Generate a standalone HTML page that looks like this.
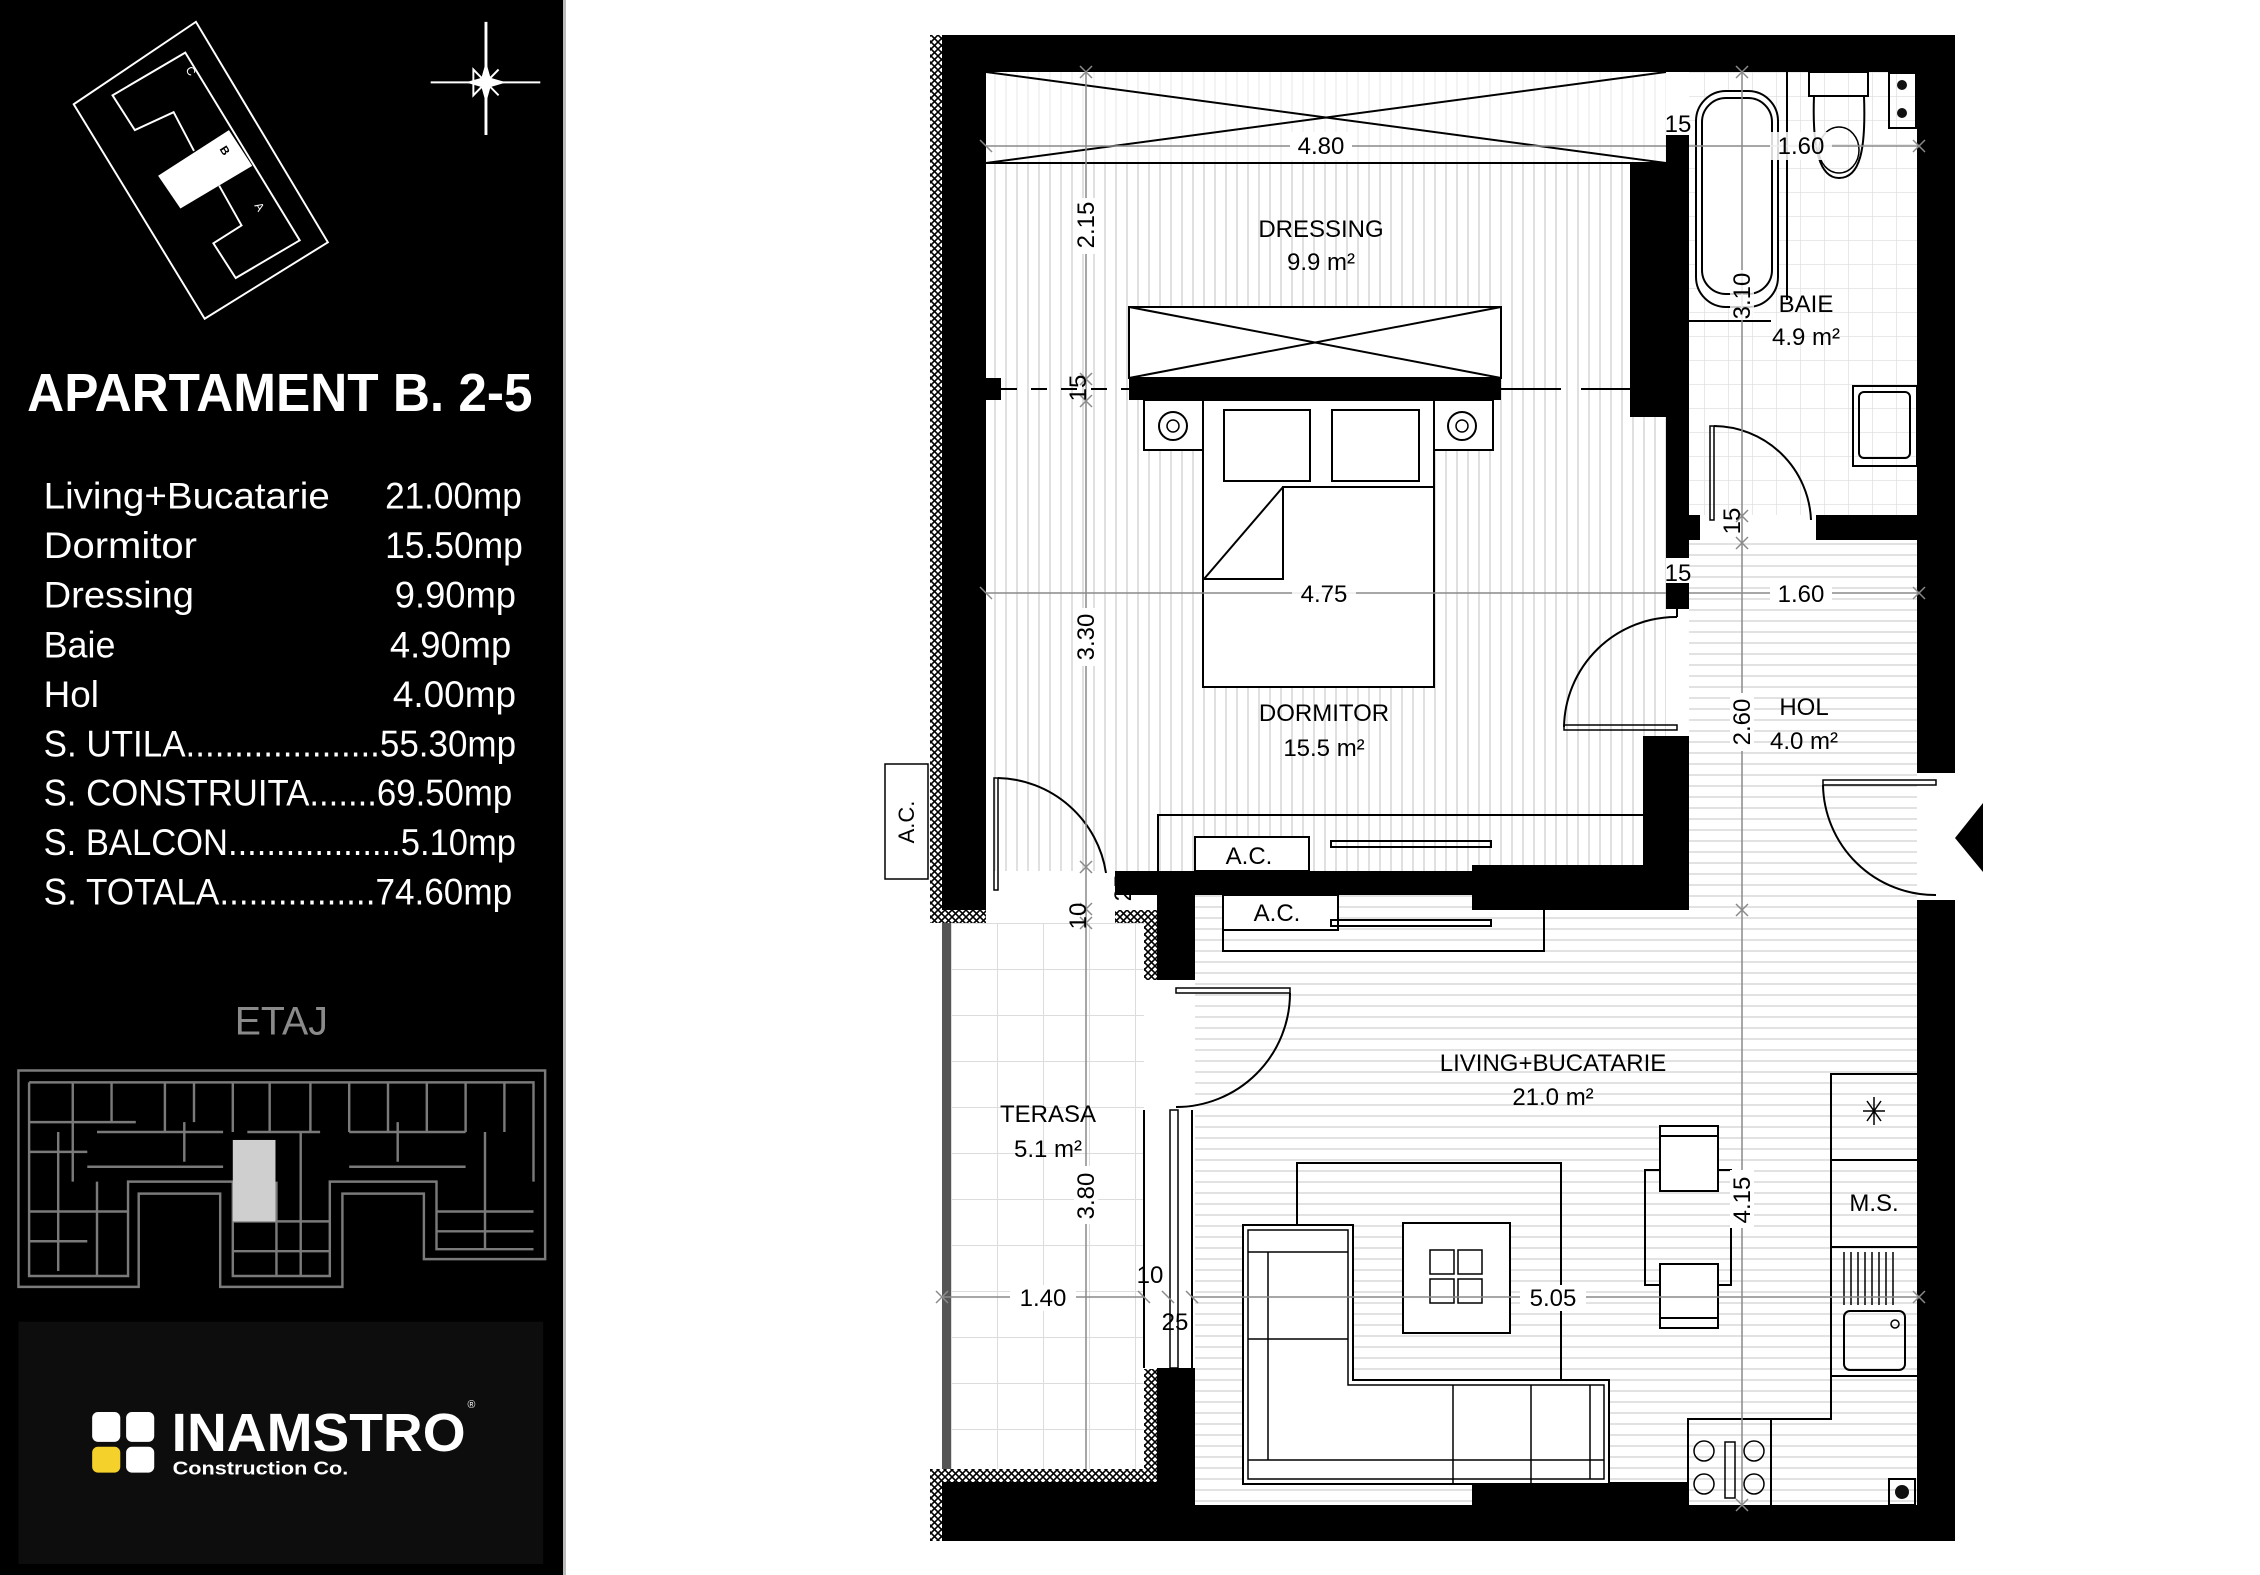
<!DOCTYPE html>
<html><head><meta charset="utf-8"><style>
html,body{margin:0;padding:0;background:#fff;}
svg{display:block;}
text{font-family:"Liberation Sans",sans-serif;}
</style></head><body>
<svg width="2260" height="1575" viewBox="0 0 2260 1575" xmlns="http://www.w3.org/2000/svg">
<defs>
<pattern id="vs" width="11" height="20" patternUnits="userSpaceOnUse"><rect width="11" height="20" fill="#fff"/><line x1="5" y1="0" x2="5" y2="20" stroke="#d9d9d9" stroke-width="1.6"/></pattern>
<pattern id="hs" width="20" height="11" patternUnits="userSpaceOnUse"><rect width="20" height="11" fill="#fff"/><line x1="0" y1="5" x2="20" y2="5" stroke="#d9d9d9" stroke-width="1.6"/></pattern>
<pattern id="bg" width="24" height="24" patternUnits="userSpaceOnUse"><rect width="24" height="24" fill="#fff"/><path d="M0 0H24M0 0V24" stroke="#e2e2e2" stroke-width="1.6" fill="none"/></pattern>
<pattern id="tg" width="46" height="46" patternUnits="userSpaceOnUse" x="951" y="923"><rect width="46" height="46" fill="#fff"/><path d="M0 0H46M0 0V46" stroke="#dcdcdc" stroke-width="2" fill="none"/></pattern>
<pattern id="ht" width="7" height="7" patternUnits="userSpaceOnUse"><rect width="7" height="7" fill="#fff"/><path d="M0 0L7 7M7 0L0 7" stroke="#000" stroke-width="1.6"/></pattern>
</defs>

<!-- LEFT PANEL -->
<rect x="0" y="0" width="563" height="1575" fill="#000"/>
<rect x="563" y="0" width="3" height="1575" fill="#bbb"/>
<g transform="scale(0.97,0.993)">
<!-- site plan -->
<polygon points="76,105 202,22 338,244 211,321" fill="none" stroke="#fff" stroke-width="2"/>
<polyline points="200,152 179,113 139,131 116,96 191,53 309,242 243,280 220,245 249,227 226,187" fill="none" stroke="#fff" stroke-width="2"/>
<polygon points="163,177 236,131 260,167 186,210" fill="#fff"/>
<text x="0" y="0" font-size="12" fill="#fff" transform="translate(191,70) rotate(58)">C</text>
<text x="0" y="0" font-size="12" fill="#000" font-weight="bold" transform="translate(226,150) rotate(58)">B</text>
<text x="0" y="0" font-size="12" fill="#fff" transform="translate(262,207) rotate(58)">A</text>
<!-- compass -->
<line x1="501" y1="22" x2="501" y2="136" stroke="#fff" stroke-width="3"/>
<line x1="444" y1="83" x2="557" y2="83" stroke="#fff" stroke-width="2"/>
<polygon points="501,62 507,83 501,104 495,83" fill="#fff"/>
<polygon points="480,83 501,77 522,83 501,89" fill="#fff"/>
<polygon points="488,70 501,83 514,96 501,83 514,70 488,96" fill="none" stroke="#fff" stroke-width="2"/>
<!-- title -->
<text x="28" y="414" font-size="54" font-weight="bold" fill="#fff" textLength="521" lengthAdjust="spacingAndGlyphs">APARTAMENT B. 2-5</text>
<g font-size="37" fill="#fff">
<text x="45" y="512" textLength="295" lengthAdjust="spacingAndGlyphs">Living+Bucatarie</text>
<text x="397" y="512" textLength="141" lengthAdjust="spacingAndGlyphs">21.00mp</text>
<text x="45" y="562" textLength="158" lengthAdjust="spacingAndGlyphs">Dormitor</text>
<text x="397" y="562" textLength="142" lengthAdjust="spacingAndGlyphs">15.50mp</text>
<text x="45" y="612" textLength="155" lengthAdjust="spacingAndGlyphs">Dressing</text>
<text x="407" y="612" textLength="125" lengthAdjust="spacingAndGlyphs">9.90mp</text>
<text x="45" y="662" textLength="74" lengthAdjust="spacingAndGlyphs">Baie</text>
<text x="402" y="662" textLength="125" lengthAdjust="spacingAndGlyphs">4.90mp</text>
<text x="45" y="712" textLength="57" lengthAdjust="spacingAndGlyphs">Hol</text>
<text x="405" y="712" textLength="127" lengthAdjust="spacingAndGlyphs">4.00mp</text>
<text x="45" y="762" textLength="487" lengthAdjust="spacingAndGlyphs">S. UTILA....................55.30mp</text>
<text x="45" y="811" textLength="483" lengthAdjust="spacingAndGlyphs">S. CONSTRUITA.......69.50mp</text>
<text x="45" y="861" textLength="487" lengthAdjust="spacingAndGlyphs">S. BALCON..................5.10mp</text>
<text x="45" y="911" textLength="483" lengthAdjust="spacingAndGlyphs">S. TOTALA................74.60mp</text>
</g>
<text x="242" y="1042" font-size="40" fill="#8a8a8a" textLength="96" lengthAdjust="spacingAndGlyphs">ETAJ</text>
<!-- floor thumbnail -->
<g fill="none" stroke="#7a7a7a" stroke-width="2.5">
<path d="M19 1078H562V1268H437V1202H353V1296H227V1202H143V1296H19Z"/>
<path d="M30 1090H550V1190M30 1090V1285H132V1190H240V1285H340V1190H450V1258H550"/>
<path d="M75 1090V1190M115 1090V1130M170 1090V1140M200 1090V1130M240 1090V1140M278 1090V1140M320 1090V1140M360 1090V1140M400 1090V1140M440 1090V1140M480 1090V1140M520 1090V1140"/>
<path d="M30 1130H140M30 1160H90M30 1220H132M30 1250H90M240 1230H340M240 1260H340M450 1220H550M450 1240H550"/>
<path d="M100 1140H230M255 1140H330M360 1140H480M90 1175H230M360 1175H480"/>
<path d="M60 1140V1280M100 1190V1285M285 1190V1285M310 1140V1285M500 1140V1258M190 1130V1170M410 1130V1170"/>
</g>
<rect x="240" y="1148" width="44" height="82" fill="#cfcfcf"/>
<!-- logo box -->
<rect x="19" y="1331" width="541" height="244" fill="#0d0d0d"/>
<rect x="95" y="1422" width="29" height="30" rx="6" fill="#fff"/>
<rect x="130" y="1422" width="29" height="30" rx="6" fill="#fff"/>
<rect x="95" y="1457" width="29" height="26" rx="6" fill="#f4d12b"/>
<rect x="130" y="1457" width="29" height="26" rx="6" fill="#fff"/>
<text x="177" y="1461" font-size="54" font-weight="bold" fill="#fff" textLength="303" lengthAdjust="spacingAndGlyphs">INAMSTRO</text>
<text x="482" y="1418" font-size="11" fill="#fff">®</text>
<text x="178" y="1485" font-size="19" font-weight="bold" fill="#fff" textLength="181" lengthAdjust="spacingAndGlyphs">Construction Co.</text>
</g>

<!-- FLOORS -->
<rect x="986" y="72" width="680" height="799" fill="url(#vs)"/>
<rect x="1689" y="72" width="228" height="443" fill="url(#bg)"/>
<rect x="1689" y="538" width="228" height="362" fill="url(#hs)"/>
<rect x="1195" y="895" width="722" height="610" fill="url(#hs)"/>
<rect x="951" y="923" width="193" height="546" fill="url(#tg)"/>

<!-- WALLS -->
<g fill="#000">
<rect x="942" y="35" width="1013" height="37"/>
<rect x="942" y="35" width="44" height="875"/>
<rect x="1917" y="35" width="38" height="738"/>
<rect x="1917" y="900" width="38" height="641"/>
<rect x="942" y="1482" width="253" height="59"/>
<rect x="1472" y="1482" width="216" height="59"/>
<rect x="1195" y="1505" width="760" height="36"/>
<rect x="1157" y="1368" width="38" height="114"/>
<rect x="1115" y="871" width="365" height="24"/>
<rect x="1157" y="895" width="38" height="85"/>
<rect x="1472" y="865" width="217" height="45"/>
<rect x="1643" y="736" width="46" height="174"/>
<rect x="1666" y="135" width="23" height="423"/>
<rect x="1630" y="163" width="59" height="254"/>
<rect x="1666" y="515" width="34" height="25"/>
<rect x="1816" y="515" width="101" height="25"/>
<rect x="1666" y="583" width="23" height="26"/>
<rect x="986" y="378" width="15" height="22"/>
<rect x="1129" y="378" width="372" height="22"/>
<polygon points="1955,838 1983,803 1983,872"/>
</g>
<g fill="url(#ht)">
<rect x="930" y="35" width="12" height="888"/>
<rect x="930" y="910" width="56" height="13"/>
<rect x="1115" y="910" width="42" height="13"/>
<rect x="1144" y="923" width="13" height="57"/>
<rect x="1144" y="1369" width="13" height="113"/>
<rect x="942" y="1469" width="215" height="13"/>
<rect x="930" y="1469" width="12" height="72"/>
</g>
<rect x="942" y="923" width="9" height="546" fill="#555"/>
<!-- outdoor AC -->
<rect x="885" y="764" width="43" height="115" fill="#fff" stroke="#000" stroke-width="1.5"/>
<text font-size="22" transform="translate(914,822) rotate(-90)" text-anchor="middle">A.C.</text>

<!-- FURNITURE -->
<g fill="none" stroke="#000" stroke-width="2">
<rect x="986" y="72" width="680" height="91" fill="rgba(255,255,255,0.6)" stroke="none"/>
<line x1="986" y1="163" x2="1666" y2="163"/>
<path d="M986 72L1666 163M986 163L1666 72"/>
<rect x="1129" y="307" width="372" height="71" fill="#fff"/>
<path d="M1129 307L1501 378M1129 378L1501 307"/>
<rect x="1144" y="400" width="59" height="50" fill="#fff"/>
<rect x="1434" y="400" width="59" height="50" fill="#fff"/>
<circle cx="1173" cy="426" r="14"/><circle cx="1173" cy="426" r="6" stroke-width="1.5"/>
<circle cx="1462" cy="426" r="14"/><circle cx="1462" cy="426" r="6" stroke-width="1.5"/>
<rect x="1203" y="400" width="231" height="287" fill="#fff"/>
<rect x="1224" y="410" width="86" height="71"/>
<rect x="1332" y="410" width="87" height="71"/>
<path d="M1434 487H1283V579H1204M1283 487L1204 579"/>
<path d="M1158 871V815H1643"/>
<rect x="1195" y="837" width="114" height="34" fill="#fff"/>
<rect x="1331" y="841" width="160" height="6"/>
<rect x="1223" y="895" width="115" height="35" fill="#fff"/>
<path d="M1223 930V951H1544V910"/>
<rect x="1331" y="920" width="160" height="6"/>
<path d="M994 778H998V890H994Z" stroke-width="1.5"/>
<path d="M998 778A112 112 0 0 1 1106 873"/>
<path d="M1564 725H1677V730H1564Z" stroke-width="1.5"/>
<path d="M1677 617A112 112 0 0 0 1564 727"/>
<line x1="1677" y1="609" x2="1677" y2="617"/>
<path d="M1710 426H1714V520H1710Z" stroke-width="1.5"/>
<path d="M1714 426A98 98 0 0 1 1811 520"/>
<path d="M1823 780H1936V785H1823Z" stroke-width="1.5"/>
<path d="M1823 785A112 112 0 0 0 1936 895"/>
<path d="M1176 988H1290V993H1176Z" stroke-width="1.5"/>
<path d="M1290 993A114 114 0 0 1 1176 1107"/>
<line x1="1144" y1="1110" x2="1144" y2="1368"/>
<line x1="1192" y1="1110" x2="1192" y2="1368"/>
<rect x="1170" y="1110" width="8" height="258" stroke-width="1.5"/>
<rect x="1696" y="91" width="82" height="216" rx="30" fill="#fff"/>
<rect x="1702" y="98" width="70" height="196" rx="24"/>
<line x1="1787" y1="72" x2="1787" y2="300"/>
<line x1="1689" y1="321" x2="1771" y2="321"/>
<rect x="1809" y="72" width="59" height="24"/>
<path d="M1814 96C1812 150 1820 178 1839 178C1860 178 1866 150 1864 96"/>
<ellipse cx="1839" cy="150" rx="20" ry="23" stroke-width="1.5"/>
<rect x="1889" y="73" width="27" height="55"/>
<rect x="1853" y="386" width="64" height="80"/>
<rect x="1859" y="392" width="51" height="66" rx="5"/>
<rect x="1297" y="1163" width="264" height="217"/>
<path d="M1243 1225H1353V1380H1609V1484H1243Z" fill="#fff"/>
<path d="M1248 1230H1348V1385H1604V1479H1248Z" stroke-width="1.5"/>
<path d="M1248 1252H1348M1248 1339H1348M1248 1460H1604M1268 1252V1460M1453 1385V1484M1531 1385V1484M1590 1385V1479" stroke-width="1.5"/>
<rect x="1403" y="1223" width="107" height="110" fill="#fff"/>
<rect x="1430" y="1250" width="24" height="24" stroke-width="1.5"/><rect x="1458" y="1250" width="24" height="24" stroke-width="1.5"/>
<rect x="1430" y="1279" width="24" height="24" stroke-width="1.5"/><rect x="1458" y="1279" width="24" height="24" stroke-width="1.5"/>
<rect x="1645" y="1170" width="86" height="115"/>
<rect x="1660" y="1126" width="58" height="65" fill="#fff"/><line x1="1660" y1="1136" x2="1718" y2="1136"/>
<rect x="1660" y="1264" width="58" height="64" fill="#fff"/><line x1="1660" y1="1318" x2="1718" y2="1318"/>
<path d="M1917 1074H1831V1419H1688V1505M1771 1419V1505M1831 1160H1917M1831 1247H1917M1831 1376H1917"/>
<path d="M1844 1252V1305M1851 1252V1305M1858 1252V1305M1865 1252V1305M1872 1252V1305M1879 1252V1305M1886 1252V1305M1893 1252V1305" stroke-width="1.5"/>
<rect x="1844" y="1311" width="61" height="59" rx="6"/>
<circle cx="1895" cy="1324" r="4" stroke-width="1.5"/>
<path d="M1867 1101L1881 1121M1867 1121L1881 1101M1863 1111H1885M1874 1097V1125" stroke-width="1.5"/>
<rect x="1725" y="1442" width="10" height="56" stroke-width="1.5"/>
<g stroke-width="1.5"><circle cx="1704" cy="1451" r="10"/><circle cx="1704" cy="1484" r="10"/><circle cx="1754" cy="1451" r="10"/><circle cx="1754" cy="1484" r="10"/></g>
<rect x="1889" y="1479" width="26" height="26"/>
</g>
<circle cx="1902" cy="85" r="5" fill="#111"/><circle cx="1902" cy="113" r="5" fill="#111"/>
<circle cx="1902" cy="1492" r="7" fill="#111"/>
<line x1="1001" y1="389" x2="1129" y2="389" stroke="#000" stroke-width="2" stroke-dasharray="16,14"/>
<line x1="1501" y1="389" x2="1630" y2="389" stroke="#000" stroke-width="2" stroke-dasharray="60,20"/>

<!-- DIMENSIONS -->
<g stroke="#8a8a8a" stroke-width="1.5" fill="none">
<line x1="986" y1="146" x2="1666" y2="146"/>
<line x1="1689" y1="146" x2="1919" y2="146"/>
<line x1="986" y1="593" x2="1666" y2="593"/>
<line x1="1689" y1="593" x2="1919" y2="593"/>
<line x1="1086" y1="72" x2="1086" y2="1469"/>
<line x1="1742" y1="72" x2="1742" y2="1505"/>
<line x1="942" y1="1297" x2="1144" y2="1297"/>
<line x1="1192" y1="1297" x2="1919" y2="1297"/>
<path d="M1080 66L1092 78M1080 78L1092 66M1080 373L1092 385M1080 385L1092 373M1080 395L1092 407M1080 407L1092 395M1080 861L1092 873M1080 873L1092 861M1080 903L1092 915M1080 915L1092 903M1080 917L1092 929M1080 929L1092 917M1736 66L1748 78M1736 78L1748 66M1736 510L1748 522M1736 522L1748 510M1736 537L1748 549M1736 549L1748 537M1736 904L1748 916M1736 916L1748 904M1736 1499L1748 1511M1736 1511L1748 1499M1913 140L1925 152M1913 152L1925 140M1913 587L1925 599M1913 599L1925 587M1913 1291L1925 1303M1913 1303L1925 1291M936 1291L948 1303M936 1303L948 1291M1138 1291L1150 1303M1162 1291L1174 1303M1186 1291L1198 1303M980 140L992 152M980 587L992 599"/>
</g>
<!-- LABELS -->
<g font-size="24" fill="#000" text-anchor="middle">
<rect x="1290" y="132" width="62" height="28" fill="#fff"/>
<text x="1321" y="154">4.80</text>
<rect x="1770" y="132" width="62" height="28" fill="#fff" opacity="0.85"/>
<text x="1801" y="154">1.60</text>
<rect x="1292" y="581" width="64" height="26" fill="#fff" opacity="0.85"/>
<text x="1324" y="602">4.75</text>
<rect x="1770" y="580" width="62" height="26" fill="#fff"/>
<text x="1801" y="602">1.60</text>
<rect x="1010" y="1285" width="66" height="26" fill="#fff"/>
<text x="1043" y="1306">1.40</text>
<rect x="1520" y="1285" width="66" height="26" fill="#fff"/>
<text x="1553" y="1306">5.05</text>
<text x="1678" y="132">15</text>
<text x="1678" y="581">15</text>
<text x="1150" y="1283">10</text>
<text x="1175" y="1330">25</text>
<text x="1321" y="237">DRESSING</text>
<text x="1321" y="270">9.9 m²</text>
<text x="1324" y="721">DORMITOR</text>
<text x="1324" y="756">15.5 m²</text>
<text x="1806" y="312">BAIE</text>
<text x="1806" y="345">4.9 m²</text>
<text x="1804" y="715">HOL</text>
<text x="1804" y="749">4.0 m²</text>
<text x="1553" y="1071">LIVING+BUCATARIE</text>
<text x="1553" y="1105">21.0 m²</text>
<text x="1048" y="1122">TERASA</text>
<text x="1048" y="1157">5.1 m²</text>
<text x="1249" y="864">A.C.</text>
<text x="1277" y="921">A.C.</text>
<text x="1874" y="1211">M.S.</text>
<rect x="1074" y="198" width="24" height="56" fill="#fff"/>
<text transform="translate(1094,225) rotate(-90)">2.15</text>
<rect x="1074" y="608" width="24" height="58" fill="#fff"/>
<text transform="translate(1094,637) rotate(-90)">3.30</text>
<rect x="1074" y="1166" width="24" height="58" fill="#fff"/>
<text transform="translate(1094,1196) rotate(-90)">3.80</text>
<text transform="translate(1086,388) rotate(-90)">15</text>
<text transform="translate(1086,916) rotate(-90)">10</text>
<text transform="translate(1131,888) rotate(-90)">25</text>
<rect x="1730" y="270" width="24" height="50" fill="#fff" opacity="0.8"/>
<text transform="translate(1750,296) rotate(-90)">3.10</text>
<text transform="translate(1740,521) rotate(-90)">15</text>
<rect x="1730" y="693" width="24" height="58" fill="#fff"/>
<text transform="translate(1750,722) rotate(-90)">2.60</text>
<rect x="1730" y="1170" width="24" height="58" fill="#fff"/>
<text transform="translate(1750,1200) rotate(-90)">4.15</text>
</g>
</svg>
</body></html>
